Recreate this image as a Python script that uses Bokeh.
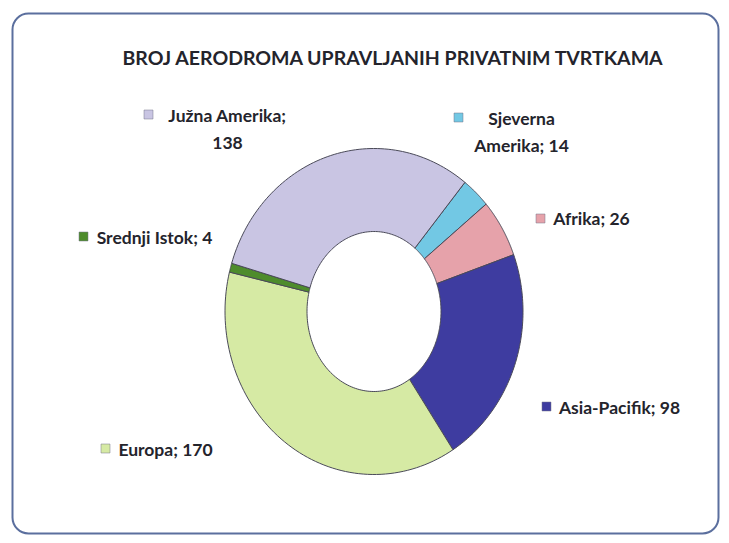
import numpy as np
from bokeh.plotting import figure
from bokeh.models import Range1d, BoxAnnotation, ColumnDataSource
from bokeh.core.properties import value
from bokeh.embed import file_html
from bokeh.resources import INLINE

# ---- data ----
title = "BROJ AERODROMA UPRAVLJANIH PRIVATNIM TVRTKAMA"
categories = ["Sjeverna Amerika", "Afrika", "Asia-Pacifik", "Europa", "Srednji Istok", "Južna Amerika"]
values = [14, 26, 98, 170, 4, 138]
colors = ["#72c8e4", "#e6a2aa", "#3e3ca0", "#d6eaa4", "#4e8c2c", "#c9c5e3"]

# label text layout (line break positions) and anchors (page coordinates)
label_lines = [
    ["Sjeverna", "Amerika; {v}"],
    ["Afrika; {v}"],
    ["Asia-Pacifik; {v}"],
    ["Europa; {v}"],
    ["Srednji Istok; {v}"],
    ["Južna Amerika;", "{v}"],
]
label_center_x = [521, 591, 619, 165, 154, 227]
label_first_y = [118, 218, 407, 449, 237, 115]
marker_x = [458, 540, 546, 105, 83, 148]
marker_y = [117, 218, 406, 448, 236, 114]

# ---- geometry/style ----
W, H = 720, 535
cx, cy = 373.5, 311.0
rx_out, ry_out = 149.0, 163.0
rx_in, ry_in = 67.0, 80.0
start_deg = 37.6  # clockwise from 12 o'clock
FONT = "Lato"

p = figure(width=W, height=H, output_backend="svg", toolbar_location=None,
           x_range=Range1d(0, W), y_range=Range1d(H, 0),
           min_border=0, outline_line_color=None)
p.axis.visible = False
p.grid.visible = False
p.background_fill_color = "white"
p.border_fill_color = "white"

# frame with rounded corners
p.add_layout(BoxAnnotation(left=12, right=718, top=13, bottom=533,
                           fill_alpha=0, line_color="#5b6f9e", line_alpha=1.0,
                           line_width=2, border_radius=16))

vals = np.array(values, dtype=float)
frac = vals / vals.sum()
ends = np.cumsum(frac) * 360.0
starts = ends - frac * 360.0

xs, ys = [], []
for s, e in zip(starts, ends):
    t = np.radians(np.linspace(start_deg + s, start_deg + e, 80))
    ox = cx + rx_out * np.sin(t)
    oy = cy - ry_out * np.cos(t)
    ix = cx + rx_in * np.sin(t[::-1])
    iy = cy - ry_in * np.cos(t[::-1])
    xs.append(list(np.concatenate([ox, ix])))
    ys.append(list(np.concatenate([oy, iy])))

src = ColumnDataSource(dict(xs=xs, ys=ys, color=colors, cat=categories))
p.patches("xs", "ys", source=src, fill_color="color", line_color="#4a4a58",
          line_width=1)

# title
p.text(x=[393], y=[57], text=[title], text_font=value(FONT),
       text_font_style="bold", text_font_size="19.5px", text_color="#24242c",
       text_align="center", text_baseline="middle")

# labels
tx, ty, tt = [], [], []
for i, lines in enumerate(label_lines):
    for j, ln in enumerate(lines):
        tx.append(label_center_x[i])
        ty.append(label_first_y[i] + 27 * j)
        tt.append(ln.format(v=values[i]))
p.text(x=tx, y=ty, text=tt, text_font=value(FONT), text_font_style="bold",
       text_font_size="17.5px", text_color="#24242c", text_align="center",
       text_baseline="middle")

p.scatter(x=marker_x, y=marker_y, marker="square", size=9, fill_color=colors,
          line_color="#777788", line_width=0.5)

open("out.html", "w").write(file_html(p, INLINE))
